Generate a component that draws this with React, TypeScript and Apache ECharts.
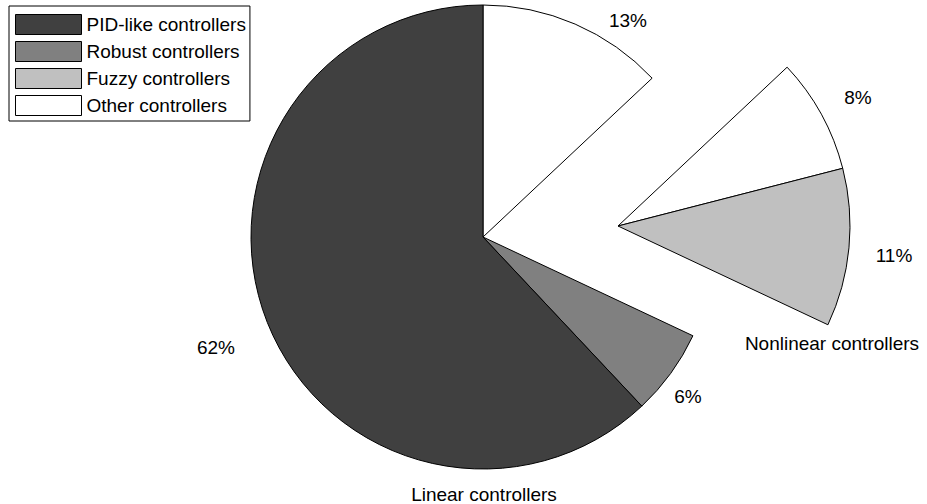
import React, { useEffect, useRef } from "react";
import * as echarts from "echarts";

// Legend entries and their fills
const legendNames = ["PID-like controllers", "Robust controllers", "Fuzzy controllers", "Other controllers"];
const legendColors = ["#404040", "#808080", "#c0c0c0", "#ffffff"];

// Slices, clockwise from 12 o'clock
const sliceNames = ["Other controllers", "Other controllers", "Fuzzy controllers", "Robust controllers", "PID-like controllers"];
const sliceValues = [13, 8, 11, 6, 62];
const sliceGroups = ["Linear controllers", "Nonlinear controllers", "Nonlinear controllers", "Linear controllers", "Linear controllers"];

// Groups (each drawn as its own pie)
const groupNames = ["Linear controllers", "Nonlinear controllers"];

// Layout (kept apart from the data)
const groupCenters = [[483, 237], [618, 226]];
const groupLabelPos = [[484, 494], [832, 343]];
const sliceLabelPos = [[628, 20], [858, 97], [894, 255], [688, 396], [216, 347]];
const RADIUS = 232;
const FONT = "'Liberation Sans', Arial, Helvetica, sans-serif";
const FONT_SIZE = 19;

export default function App() {
  const ref = useRef<HTMLDivElement>(null);
  useEffect(() => {
    document.body.style.margin = "0";
    if (!ref.current) return;
    const chart = echarts.init(ref.current, undefined, { renderer: "svg" });
    const colorOf = (name: string) => legendColors[legendNames.indexOf(name)];

    const series = groupNames.map((g, gi) => ({
      type: "pie",
      name: g,
      center: groupCenters[gi],
      radius: RADIUS,
      startAngle: 90,
      clockwise: true,
      avoidLabelOverlap: false,
      silent: true,
      emphasis: { disabled: true },
      labelLine: { show: false },
      data: sliceValues.map((v, i) => {
        const mine = sliceGroups[i] === g;
        return {
          name: mine ? sliceNames[i] : "__gap" + i,
          value: v,
          itemStyle: mine
            ? { color: colorOf(sliceNames[i]), borderColor: "#000", borderWidth: 1 }
            : { color: "rgba(0,0,0,0)", borderWidth: 0 },
          label: mine
            ? {
                show: true,
                position: "outside",
                formatter: "{c}%",
                color: "#000",
                fontFamily: FONT,
                fontSize: FONT_SIZE,
              }
            : { show: false },
        };
      }),
      labelLayout: (params: any) => {
        const p = sliceLabelPos[params.dataIndex];
        return { x: p[0], y: p[1], align: "center", verticalAlign: "middle" };
      },
    }));

    chart.setOption({
      animation: false,
      backgroundColor: "#fff",
      legend: {
        data: legendNames,
        orient: "vertical",
        left: 9,
        top: 6,
        padding: [8, 4, 5, 6],
        itemWidth: 66,
        itemHeight: 20,
        itemGap: 6,
        icon: "rect",
        borderColor: "#000",
        borderWidth: 1,
        backgroundColor: "#fff",
        selectedMode: false,
        textStyle: { color: "#000", fontFamily: FONT, fontSize: FONT_SIZE, lineHeight: 20, padding: [0, 0, 0, 0] },
        itemStyle: { borderColor: "#000", borderWidth: 1 },
      },
      color: legendColors,
      graphic: groupNames.map((g, gi) => ({
        type: "text",
        x: groupLabelPos[gi][0],
        y: groupLabelPos[gi][1],
        style: {
          text: g,
          fill: "#000",
          font: `${FONT_SIZE}px ${FONT}`,
          textAlign: "center",
          textVerticalAlign: "middle",
        },
      })),
      series,
    });
    return () => chart.dispose();
  }, []);
  return <div ref={ref} style={{ width: 927, height: 504 }} />;
}
